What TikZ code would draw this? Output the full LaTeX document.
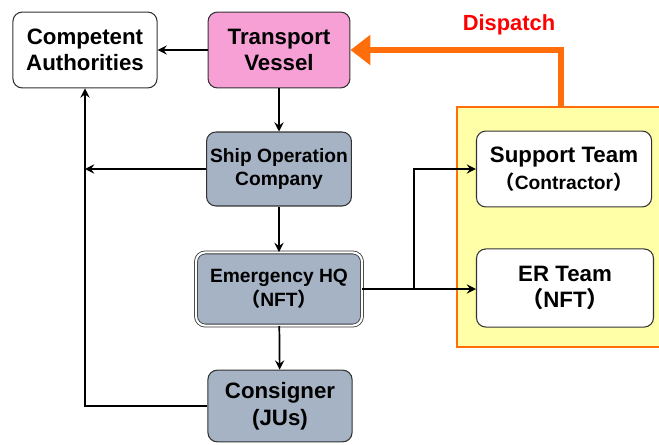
\documentclass[tikz,border=0pt]{standalone}
\usepackage{fontspec}
\setmainfont{Liberation Sans}
\newfontfamily\cjk{Noto Sans CJK JP}
\usetikzlibrary{arrows.meta}

\definecolor{vesselpink}{RGB}{246,160,214}
\definecolor{slate}{RGB}{165,179,196}
\definecolor{zoneyellow}{RGB}{255,255,168}
\definecolor{zoneorange}{RGB}{255,110,10}

\tikzset{
  box/.style={draw=black!80, line width=0.8pt, rounded corners=7pt, align=center,
    font=\bfseries\fontsize{16.8}{20}\selectfont, inner sep=2pt},
  small/.style={font=\bfseries\fontsize{14.5}{18}\selectfont},
  arr/.style={line width=1.3pt, -{Stealth[length=7pt,width=7pt,inset=2.5pt]}},
  disp/.style={draw=zoneorange, line width=5pt, -{Triangle[length=15pt,width=22pt]}},
}

\begin{document}
\begin{tikzpicture}[x=0.0265cm, y=-0.0265cm]
\useasboundingbox (0,0) rectangle (659,444);
\clip (0,0) rectangle (659,444);

% responders
\node[draw=zoneorange, line width=2pt, fill=zoneyellow, minimum width=5.91cm,
  minimum height=6.36cm] (zone) at (568.5,227) {};

\node[box, fill=white, minimum width=3.82cm, minimum height=2.01cm] (auth) at (85,50)
  {Competent\\Authorities};
\node[box, fill=vesselpink, minimum width=3.76cm, minimum height=2.01cm] (vessel) at (279,50)
  {Transport\\Vessel};
\node[box, small, fill=slate, minimum width=3.84cm, minimum height=1.96cm,
  inner xsep=0pt] (shipco) at (279,169)
  {Ship Operation\\Company};
\node[box, small, fill=slate, minimum width=4.4cm, minimum height=1.94cm, double,
  double distance=1.6pt, line width=0.6pt] (hq) at (279,289)
  {Emergency HQ\\{\cjk （}NFT{\cjk ）}};
\node[box, fill=slate, minimum width=3.82cm, minimum height=1.9cm] (consigner) at (280,406)
  {Consigner\\(JUs)};
\node[box, fill=white, minimum width=4.64cm, minimum height=2.01cm] (support) at (564,169)
  {Support Team\\{\fontsize{14.5}{18}\selectfont{\cjk （}Contractor{\cjk ）}}};
\node[box, fill=white, minimum width=4.69cm, minimum height=2.07cm] (erteam) at (565,288)
  {ER Team\\{\cjk （}NFT{\cjk ）}};

\node[text=red, font=\bfseries\fontsize{16.5}{18}\selectfont] (dispatch) at (509,25) {Dispatch};

% reporting lines
\draw[arr] (vessel.west) -- (auth.east);
\draw[arr] (vessel) -- (shipco);
\draw[arr] (shipco.west) -- (shipco.west -| auth.south);
\draw[arr] (consigner.west) -| (auth.south);
\draw[arr] (shipco) -- (hq);
\draw[arr] (hq) -- (consigner);

% hq to responders
\coordinate (split) at (414,289);
\draw[line width=1.3pt] (hq.east) -- (split);
\draw[arr] (split) |- (support.west);
\draw[arr] (split) -- (split -| erteam.west);

% dispatch
\coordinate (bend) at (561,50);
\draw[disp] (bend |- zone.north) -- (bend) -- (vessel.east);
\end{tikzpicture}
\end{document}
